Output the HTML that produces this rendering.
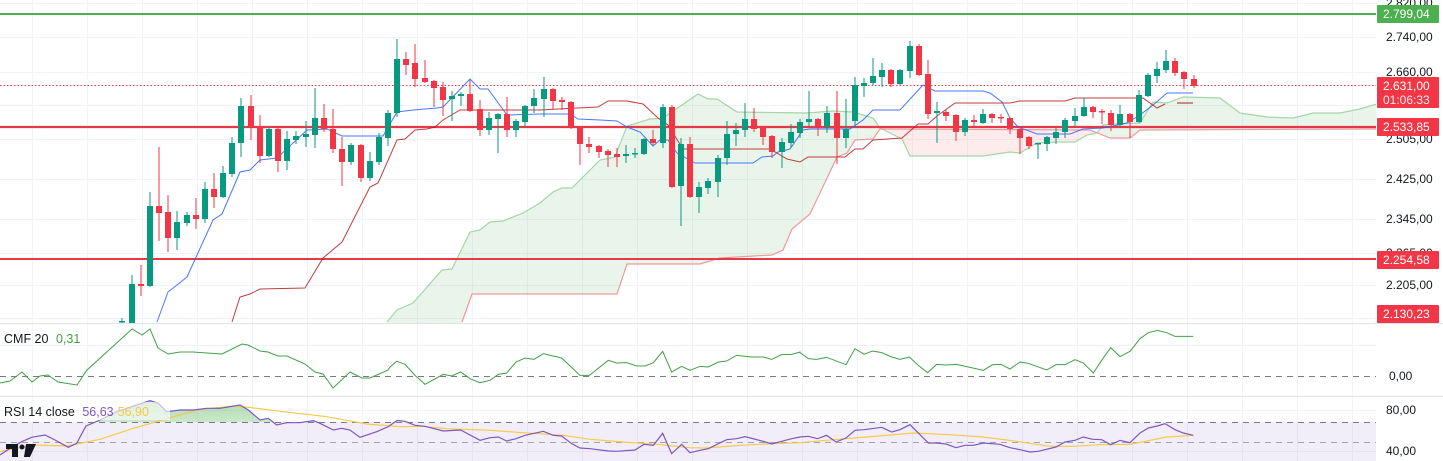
<!DOCTYPE html>
<html><head><meta charset="utf-8">
<style>
html,body{margin:0;padding:0;background:#fff;width:1443px;height:461px;overflow:hidden;font-family:"Liberation Sans",sans-serif;}
svg{display:block}
.ax{font-size:12px;fill:#131722;font-family:"Liberation Sans",sans-serif}
.bd{font-size:12px;fill:#fff;font-family:"Liberation Sans",sans-serif}
</style></head><body>
<svg id="s" width="1443" height="461" viewBox="0 0 1443 461" xmlns="http://www.w3.org/2000/svg">
<defs>
<clipPath id="main"><rect x="0" y="0" width="1376" height="323"/></clipPath>
<clipPath id="cg1"><rect x="0" y="0" width="877" height="323"/></clipPath>
<clipPath id="cp"><rect x="877" y="0" width="228" height="323"/></clipPath>
<clipPath id="cg2"><rect x="1105" y="0" width="280" height="323"/></clipPath>
<linearGradient id="gg" x1="0" y1="0" x2="0" y2="1"><stop offset="0" stop-color="#4caf50" stop-opacity="0.45"/><stop offset="1" stop-color="#4caf50" stop-opacity="0.05"/></linearGradient>
<clipPath id="above70"><rect x="0" y="397" width="1376" height="25"/></clipPath>
</defs>
<g id="grid" stroke="#f0f3fa" stroke-width="1"></g>
<g clip-path="url(#main)" id="cloud"></g>
<g id="lines"></g>
<g id="candles" clip-path="url(#main)"></g>
<g id="lower"></g>
<line x1="0" y1="323.5" x2="1443" y2="323.5" stroke="#e0e3eb"/>
<line x1="0" y1="396.5" x2="1443" y2="396.5" stroke="#e0e3eb"/>
<text class="ax" x="1386" y="7">2.820,00</text>
<text class="ax" x="1386" y="41">2.740,00</text>
<text class="ax" x="1386" y="76">2.660,00</text>
<text class="ax" x="1386" y="143">2.505,00</text>
<text class="ax" x="1386" y="183">2.425,00</text>
<text class="ax" x="1386" y="223">2.345,00</text>
<text class="ax" x="1386" y="257">2.265,00</text>
<text class="ax" x="1386" y="289">2.205,00</text>
<text class="ax" x="1389" y="380">0,00</text>
<text class="ax" x="1386" y="414">80,00</text>
<text class="ax" x="1386" y="455">40,00</text>
<rect x="1377" y="5" width="62" height="18" rx="1" fill="#4caf50"/>
<text class="bd" x="1383" y="18">2.799,04</text>
<rect x="1377" y="77" width="62" height="31" rx="1" fill="#f23645"/>
<text class="bd" x="1383" y="90">2.631,00</text>
<text class="bd" x="1383" y="104" fill-opacity="0.9">01:06:33</text>
<rect x="1377" y="118" width="62" height="18" rx="1" fill="#f23645"/>
<text class="bd" x="1383" y="131">2.533,85</text>
<rect x="1377" y="251" width="62" height="18" rx="1" fill="#f23645"/>
<text class="bd" x="1383" y="264">2.254,58</text>
<rect x="1377" y="305" width="62" height="18" rx="1" fill="#f23645"/>
<text class="bd" x="1383" y="318">2.130,23</text>
<text x="4" y="343" font-size="12.5" fill="#131722">CMF 20 <tspan fill="#43a047" dx="4">0,31</tspan></text>
<rect x="2" y="402" width="168" height="18" fill="#fff" fill-opacity="0.6"/>
<text x="4" y="416" font-size="12.5" fill="#131722">RSI 14 close <tspan fill="#7e57c2" dx="4">56,63</tspan><tspan fill="#f2c94c" dx="4">56,90</tspan></text>
<g fill="#131722"><rect x="6" y="444" width="12" height="5"/><rect x="12" y="444" width="6" height="13"/><circle cx="22" cy="447" r="2.5"/><polygon points="26,444 36,444 30,457 24,457"/></g>
</svg>
<script>
const NS="http://www.w3.org/2000/svg";
function el(p,t,a){const e=document.createElementNS(NS,t);for(const k in a)e.setAttribute(k,a[k]);document.getElementById(p).appendChild(e);return e;}
function pts(a){return a.map(p=>p.join(',')).join(' ');}
for(let x=32;x<1376;x+=55)el('grid','line',{x1:x+.5,y1:0,x2:x+.5,y2:461});
[3,37,72,105,139,179,219,253,285,318,345,410,451].forEach(y=>el('grid','line',{x1:0,y1:y+.5,x2:1376,y2:y+.5}));
const A=[[387,322],[397,310],[413,303],[442,270],[452,269],[470,232],[480,230],[490,222],[503,221],[523,213],[540,203],[553,192],[562,188],[572,188],[600,160],[615,157],[627,126],[650,119],[663,118],[698,94],[708,99],[717,99],[737,112],[807,113],[833,111],[853,112],[873,118],[880,128],[902,139],[910,156],[983,156],[1010,152],[1020,153],[1037,143],[1057,142],[1075,142],[1087,135],[1097,133],[1103,125],[1113,124],[1140,123],[1153,102],[1167,103],[1183,97],[1220,98],[1240,113],[1267,117],[1293,118],[1313,113],[1340,113],[1360,109],[1380,103]];
const B=[[462,322],[472,294],[617,294],[627,264],[700,264],[720,258],[772,255],[783,250],[792,229],[810,214],[837,157],[847,153],[855,140],[873,139],[880,129],[1090,130],[1110,138],[1130,138],[1140,130],[1380,129]];
const polyPts=A.concat(B.slice().reverse(),[[462,330],[387,330]]);
el('cloud','polygon',{points:pts(polyPts),fill:'#4caf50','fill-opacity':0.12,'clip-path':'url(#cg1)'});
el('cloud','polygon',{points:pts(polyPts),fill:'#f23645','fill-opacity':0.1,'clip-path':'url(#cp)'});
el('cloud','polygon',{points:pts(polyPts),fill:'#4caf50','fill-opacity':0.12,'clip-path':'url(#cg2)'});
el('cloud','polyline',{points:pts(A),fill:'none',stroke:'#a5d6a7','stroke-width':1.2});
el('cloud','polyline',{points:pts(B),fill:'none',stroke:'#ef9a9a','stroke-width':1.2});
el('lines','line',{x1:0,y1:14,x2:1376,y2:14,stroke:'#4caf50','stroke-width':2});
el('lines','line',{x1:0,y1:127,x2:1376,y2:127,stroke:'#e53945','stroke-width':2.2});
el('lines','line',{x1:0,y1:259,x2:1376,y2:259,stroke:'#e53945','stroke-width':2});
el('lines','line',{x1:0,y1:85.5,x2:1376,y2:85.5,stroke:'#f23645','stroke-width':1,'stroke-dasharray':'1.5,2'});
const T=[[157,322],[168,292],[187,277],[213,220],[222,214],[240,172],[250,170],[260,160],[277,158],[307,130],[327,129],[342,136],[383,136],[397,112],[413,110],[437,108],[443,107],[470,79],[480,89],[488,89],[507,115],[540,114],[570,114],[578,119],[600,120],[617,121],[627,127],[640,132],[653,146],[660,140],[668,140],[677,153],[695,163],[753,163],[762,157],[773,156],[778,152],[790,149],[803,130],[810,129],[850,129],[863,120],[873,110],[900,110],[923,85],[935,91],[983,91],[990,93],[1002,102],[1010,118],[1018,127],[1037,134],[1070,134],[1083,129],[1103,128],[1127,123],[1140,115],[1153,105],[1167,93],[1193,93]];
el('lines','polyline',{points:pts(T),fill:'none',stroke:'#2962ff','stroke-width':1,'stroke-opacity':0.85});
const K=[[232,322],[240,297],[250,294],[260,289],[305,288],[323,258],[342,242],[370,187],[378,183],[397,140],[405,139],[415,130],[427,129],[435,127],[443,120],[460,110],[540,110],[577,108],[598,107],[608,101],[627,101],[643,104],[658,118],[668,125],[683,149],[770,149],[787,159],[800,162],[808,157],[845,157],[855,149],[863,149],[873,140],[902,138],[918,124],[928,124],[937,116],[955,103],[1010,103],[1020,101],[1065,101],[1075,98],[1143,98],[1157,108],[1165,104]];
el('lines','polyline',{points:pts(K),fill:'none',stroke:'#b71c1c','stroke-width':1,'stroke-opacity':0.85});
el('lines','line',{x1:1177,y1:103,x2:1193,y2:103,stroke:'#b71c1c','stroke-width':1});
const C=[[122,321,322,318,323,1],[132,284,330,275,330,1],[141,284,286,265,296,0],[150,206,286,192,287,1],[159,206,213,147,241,0],[168,212,238,195,252,0],[177,222,238,211,250,1],[187,215,223,212,226,1],[196,215,219,198,229,0],[205,189,219,182,223,1],[214,189,197,173,208,0],[223,173,197,166,198,1],[232,143,174,137,177,1],[241,106,143,98,157,1],[251,106,127,95,140,0],[260,127,156,115,163,0],[269,129,156,128,157,1],[278,129,161,128,172,0],[287,139,161,131,170,1],[296,136,140,131,144,1],[306,134,137,121,147,1],[315,118,135,88,148,1],[324,118,129,104,132,0],[333,129,149,109,153,0],[342,149,162,137,186,0],[351,145,162,143,165,1],[361,145,178,144,182,0],[370,161,178,152,181,1],[379,137,162,133,165,1],[388,113,138,110,146,1],[397,59,113,39,117,1],[406,59,65,52,75,0],[415,63,79,44,87,0],[425,78,82,60,83,0],[434,81,88,80,107,0],[443,87,100,82,116,0],[452,96,99,91,121,1],[461,94,96,92,106,1],[470,94,111,80,112,0],[480,109,130,100,136,0],[489,118,130,112,135,1],[498,114,119,113,153,1],[507,114,130,97,137,0],[516,121,130,119,137,1],[525,106,122,105,127,1],[534,98,106,89,113,1],[544,89,99,77,117,1],[553,89,101,88,110,0],[562,100,102,97,110,0],[571,102,127,101,129,0],[580,127,144,126,165,0],[589,144,147,137,153,0],[599,146,152,145,158,0],[608,151,155,149,167,0],[617,154,157,148,167,0],[626,154,156,145,163,1],[635,153,154,148,158,1],[644,139,154,138,155,1],[653,139,143,130,145,0],[663,107,143,104,148,1],[672,107,187,105,188,0],[681,144,186,138,226,1],[690,144,197,137,198,0],[699,187,197,182,213,1],[708,181,188,178,194,1],[718,158,182,155,197,1],[727,134,158,121,165,1],[736,130,134,123,146,1],[745,119,130,103,137,1],[754,119,129,108,132,0],[763,127,137,126,145,0],[772,136,152,135,158,0],[782,142,152,138,168,1],[791,132,143,124,148,1],[800,122,133,119,138,1],[809,119,122,91,127,1],[818,119,127,118,136,0],[827,113,127,106,133,1],[837,113,138,91,164,0],[846,129,138,99,148,1],[855,85,121,77,127,1],[864,83,86,78,97,1],[873,76,83,58,85,1],[882,70,77,63,87,1],[891,70,84,69,87,0],[900,70,84,69,85,1],[910,46,71,41,78,1],[919,46,75,44,76,0],[928,74,114,60,119,0],[937,111,113,102,143,1],[946,112,116,110,121,0],[956,115,132,114,141,0],[965,120,132,118,136,1],[974,120,122,115,127,0],[983,114,123,109,124,1],[992,114,118,113,123,0],[1001,117,118,114,123,0],[1010,118,129,117,134,0],[1020,129,138,127,154,0],[1029,137,146,136,149,0],[1038,143,144,143,159,1],[1047,137,144,136,151,1],[1056,132,138,128,144,1],[1065,120,132,118,138,1],[1075,116,121,108,127,1],[1084,107,116,98,117,1],[1093,107,112,106,118,0],[1102,111,112,109,124,0],[1111,113,125,110,131,0],[1120,114,125,105,126,1],[1130,114,122,113,138,0],[1139,95,122,90,123,1],[1148,75,96,73,97,1],[1157,69,76,62,83,1],[1166,61,70,50,73,1],[1175,61,73,58,76,0],[1184,72,79,71,89,0],[1194,79,86,75,88,0]];
C.forEach(c=>{const col=c[5]?'#089981':'#f23645';
 el('candles','line',{x1:c[0],y1:c[3],x2:c[0],y2:c[4],stroke:col,'stroke-width':1});
 el('candles','rect',{x:c[0]-3,y:c[1],width:6,height:Math.max(1.5,c[2]-c[1]),fill:col});});
el('lower','line',{x1:0,y1:376.5,x2:1376,y2:376.5,stroke:'#787b86','stroke-dasharray':'6,5'});
function conv(ox,oy,a){return a.map(p=>[ox+p[0]/3,oy+p[1]/3]);}
const cm=[[0,383],[10,381],[22,372],[32,382],[40,376],[48,375],[58,382],[77,385],[87,370],[132,329],[142,335],[150,329],[158,348],[168,354],[180,352],[193,352],[207,353],[222,354],[242,344],[248,345],[260,351],[268,352],[278,356],[287,356],[305,364],[315,372],[323,374],[333,388],[350,372],[362,378],[370,378],[388,370]]
 .concat(conv(390,322,[[0,135],[20,118],[45,127],[75,160],[105,187],[160,157],[185,162],[212,150],[240,170],[270,182],[300,175],[325,157],[350,153],[378,120],[405,108],[432,112],[460,95],[515,108],[570,160],[598,160],[655,115],[680,123],[710,122],[740,132],[765,132],[790,122],[818,88],[845,150],[875,133],[900,145],[930,133],[955,135],[985,120],[1010,117],[1040,100],[1085,105],[1120,105],[1145,112],[1175,98],[1205,97],[1230,90]]))
 .concat(conv(800,322,[[0,92],[25,110],[50,112],[80,106],[138,128],[165,80],[192,97],[218,87],[245,92],[275,105],[300,112],[328,105],[355,130],[383,152],[410,127],[440,129],[470,127],[550,145],[578,128],[603,127],[630,141],[660,120],[685,124],[740,144],[768,128],[795,128],[825,113],[850,123],[880,153],[905,115],[932,77],[960,104],[990,88],[1020,50],[1045,32],[1072,25],[1100,32],[1125,43],[1180,43]]));
el('lower','polyline',{points:pts(cm),fill:'none',stroke:'#43a047','stroke-width':1});
el('lower','rect',{x:0,y:422,width:1376,height:39,fill:'#7e57c2','fill-opacity':0.1});
el('lower','line',{x1:0,y1:422.5,x2:1376,y2:422.5,stroke:'#787b86','stroke-dasharray':'6,5'});
el('lower','line',{x1:0,y1:442.5,x2:1376,y2:442.5,stroke:'#a0a3ab','stroke-dasharray':'6,5'});
const rp=conv(0,320,[[0,405],[30,385],[65,365],[95,352],[135,345],[165,360],[205,382],[230,370],[258,318],[300,300],[350,275],[410,255],[450,242],[475,250],[500,275],[540,270],[580,270],[620,265],[660,265],[720,255],[745,270],[780,300],[805,295],[830,315],[860,308],[900,308],[940,302],[960,310],[1000,330],[1025,325],[1050,330],[1080,352],[1130,335],[1165,320]])
 .concat(conv(390,322,[[0,310],[22,295],[45,298],[75,310],[105,313],[160,327],[212,324],[270,355],[300,347],[325,345],[350,357],[378,350],[405,340],[460,328],[490,340],[515,342],[545,365],[570,378],[600,380],[655,387],[680,388],[735,384],[762,367],[790,370],[818,334],[845,395],[875,367],[900,392],[930,385],[955,380],[985,365],[1010,353],[1040,350],[1065,344],[1120,358],[1145,366],[1175,358],[1205,350],[1230,345]]))
 .concat(conv(800,322,[[0,345],[25,343],[52,350],[80,340],[108,360],[138,348],[165,325],[192,323],[245,316],[275,330],[300,323],[330,308],[385,363],[410,363],[438,366],[468,377],[495,370],[520,370],[550,363],[600,367],[630,377],[660,383],[690,390],[715,388],[768,375],[795,360],[825,355],[850,345],[878,352],[905,353],[932,368],[960,355],[990,362],[1020,333],[1045,318],[1072,312],[1095,305],[1125,323],[1150,333],[1180,340]]));
const ry=conv(0,320,[[0,395],[100,375],[200,378],[300,358],[400,325],[470,305],[590,270],[700,258],[745,262],[850,275],[980,290],[1100,312],[1200,320]])
 .concat(conv(390,322,[[100,313],[170,320],[300,325],[400,332],[520,340],[600,352],[700,360],[800,367],[900,377],[950,378],[1050,370],[1150,365]]))
 .concat(conv(800,322,[[0,362],[100,353],[200,345],[340,333],[450,338],[550,345],[650,358],[750,373],[820,373],[900,368],[990,367],[1100,345],[1180,340]]));
const fillPts=[[0,422.5]].concat(rp,[[rp[rp.length-1][0],422.5]]);
el('lower','polygon',{points:pts(fillPts),fill:'url(#gg)','clip-path':'url(#above70)'});
el('lower','polyline',{points:pts(ry),fill:'none',stroke:'#f7c948','stroke-width':1.2});
el('lower','polyline',{points:pts(rp),fill:'none',stroke:'#7e57c2','stroke-width':1.2});
</script>
</body></html>
